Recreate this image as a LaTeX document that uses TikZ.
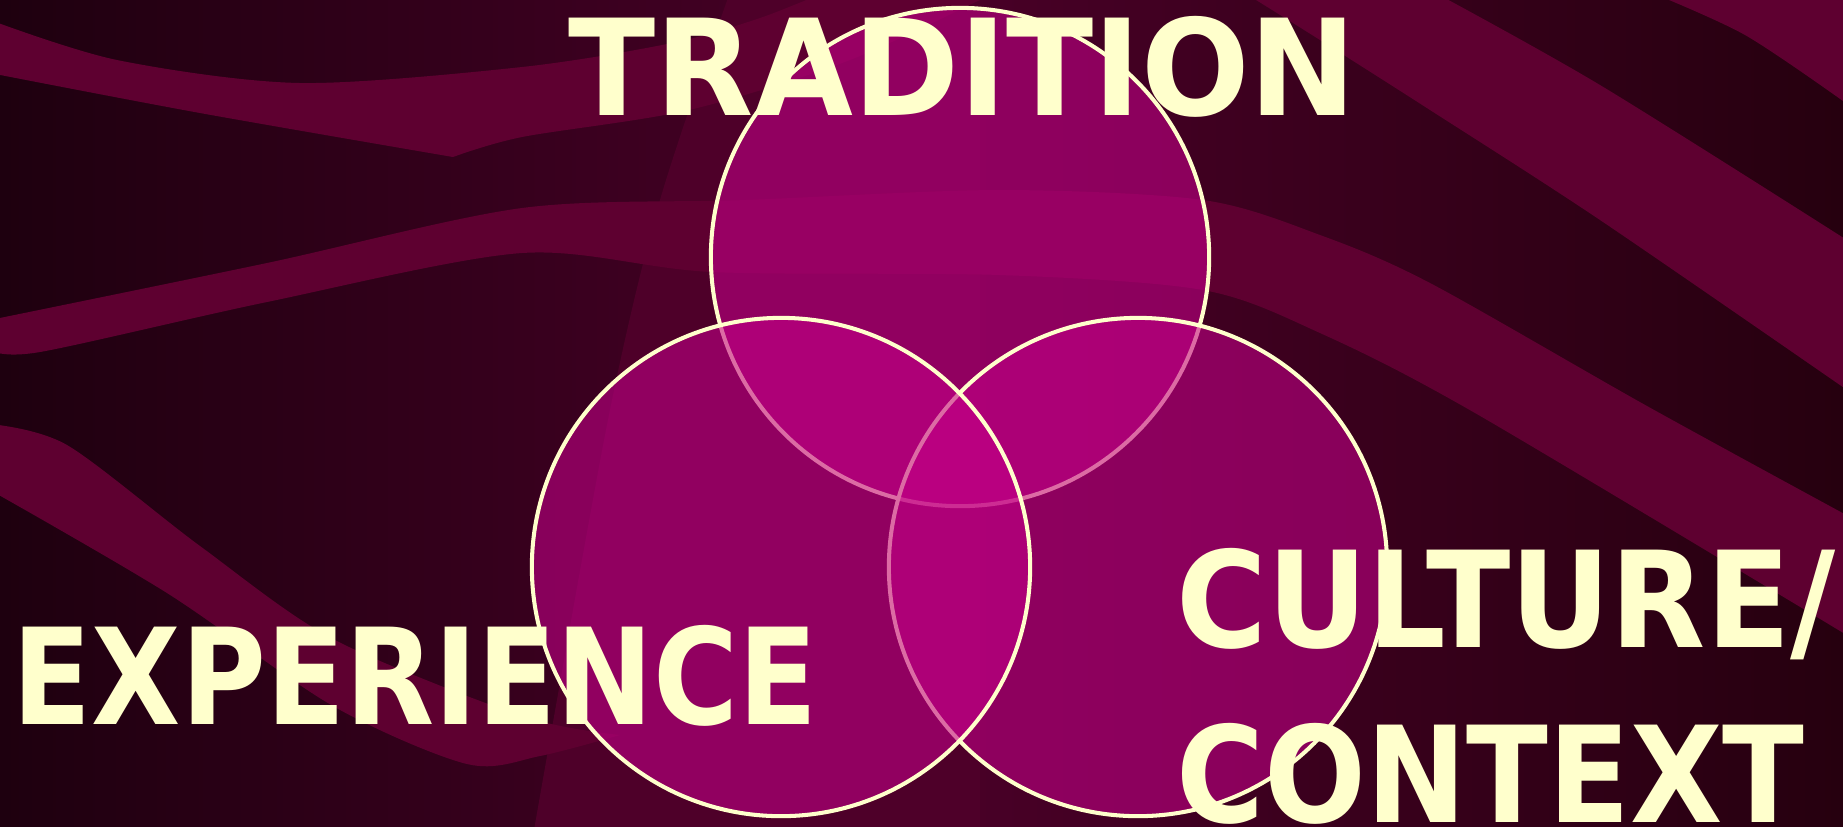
\documentclass[tikz,border=0pt]{standalone}
\usepackage{fontspec}
\newfontfamily\labelfont{DejaVu Sans}

\definecolor{bgleft}{HTML}{1E000F}
\definecolor{bgmid}{HTML}{4A0028}
\definecolor{bgright}{HTML}{26000F}
\definecolor{bandred}{HTML}{5E0030}
\definecolor{wedgered}{HTML}{4E0029}
\definecolor{ringfill}{HTML}{C30088}
\definecolor{cream}{HTML}{FFFFCC}

\newcommand\squeezed[2]{\scalebox{#1}[1]{#2}}

\begin{document}
\begin{tikzpicture}
  [x=0.01cm, y=-0.01cm,
   band/.style = {fill=bandred},
   ring/.style = {circle, draw=cream, line width=1.15pt, fill=ringfill,
                  fill opacity=0.58, minimum size=4.98cm, inner sep=0pt},
   heading/.style = {text=cream, inner sep=0pt, anchor=base west,
                     font=\labelfont\bfseries\fontsize{38}{40}\selectfont}]

\useasboundingbox (0,0) rectangle (1843,826);
\clip (0,0) rectangle (1843,826);

% Background
\shade[left color=bgleft, right color=bgright, middle color=bgmid]
  (0,0) rectangle (1843,826);
\fill[wedgered] plot[smooth] coordinates {(729,-5) (660,200) (608,420) (534,830)}
  -- (980,830) -- (980,-5) -- cycle;

% Ribbons
\fill[band] plot[smooth] coordinates {(-10,20) (117,60) (300,83) (522,67) (672,43) (760,18) (830,-10)}
  -- (1000,-10)
  -- plot[smooth] coordinates {(1000,-10) (850,60) (689,110) (522,137) (453,157)}
  -- plot[smooth] coordinates {(453,157) (200,113) (-10,73)} -- cycle;
\fill[band] plot[smooth] coordinates {(-10,320) (267,263) (522,208) (746,200) (1000,190)
    (1203,200) (1320,235) (1430,283) (1647,406) (1850,517)}
  -- (1850,637)
  -- plot[smooth] coordinates {(1850,637) (1475,413) (1320,333) (1203,290) (1000,275)
    (712,272) (522,253) (267,302) (40,352) (-10,350)} -- cycle;
\fill[band] plot[smooth] coordinates {(1430,-10) (1600,85) (1850,242)}
  -- plot[smooth] coordinates {(1850,392) (1600,220) (1430,110) (1320,40) (1240,-10)} -- cycle;
\fill[band] plot[smooth] coordinates {(1645,-10) (1745,35) (1850,106)} -- (1850,-10) -- cycle;
\fill[band] plot[smooth] coordinates {(-10,424) (67,445) (200,546) (333,639) (522,716) (620,735)}
  -- plot[smooth] coordinates {(620,735) (540,756) (467,764) (333,706) (167,593) (-10,490)} -- cycle;

% Circles
\node[ring] (trad) at (960,257) {};
\node[ring] (cult) at (1138,567) {};
\node[ring] (expe) at (781,567) {};

% Labels
\node[heading] (tradition) at (568,115) {\squeezed{0.956}{TRADITION}};
\node[heading] (experience) at (12,724) {\squeezed{0.867}{EXPERIENCE}};
\node[heading] (culture) at (1176,647) {\squeezed{0.925}{CULTURE/}};
\node[heading] (context) at (1176,822) {\squeezed{0.897}{CONTEXT}};

\end{tikzpicture}
\end{document}
